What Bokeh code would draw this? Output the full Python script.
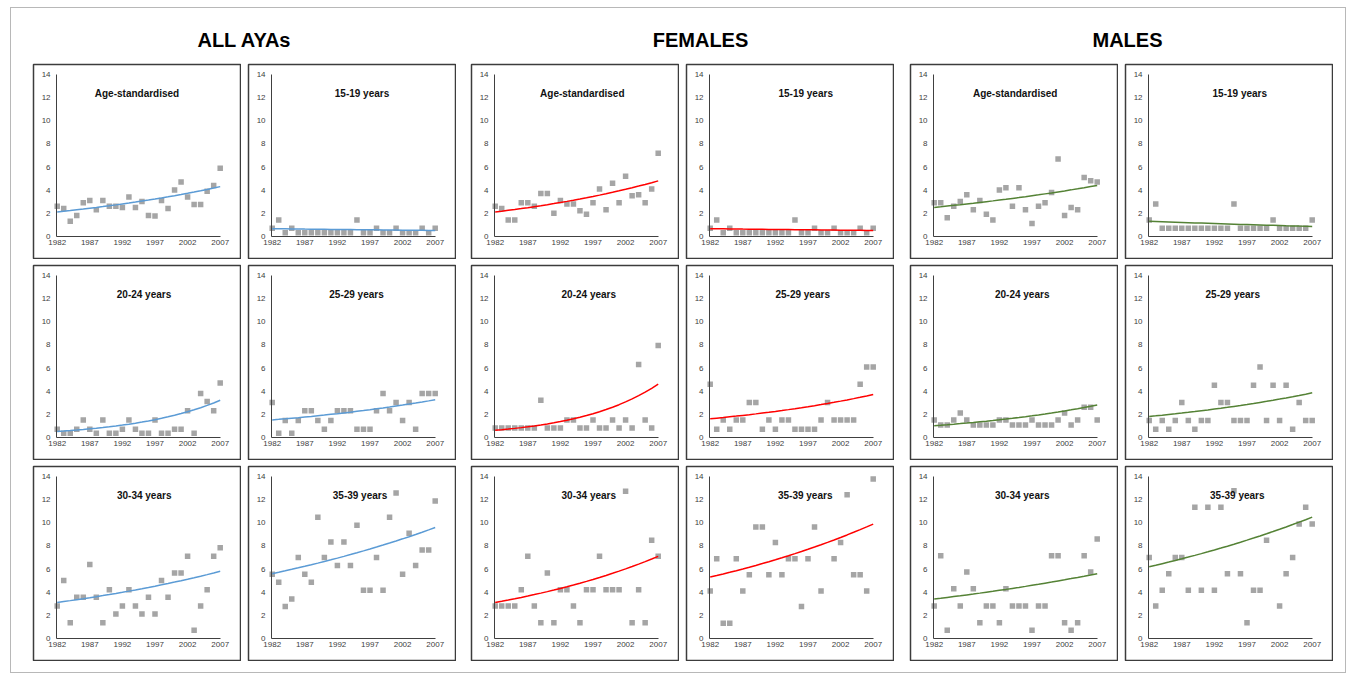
import numpy as np
from bokeh.plotting import figure
from bokeh.models import Range1d, FixedTicker, Label, Spacer, LinearAxis
from bokeh.layouts import row, column
from bokeh.embed import file_html
from bokeh.resources import INLINE

# ---------------- data ----------------
years = [1982, 1983, 1984, 1985, 1986, 1987, 1988, 1989, 1990, 1991, 1992, 1993, 1994,
         1995, 1996, 1997, 1998, 1999, 2000, 2001, 2002, 2003, 2004, 2005, 2006, 2007]
x_ticks = [1982, 1987, 1992, 1997, 2002, 2007]
y_ticks = [0, 2, 4, 6, 8, 10, 12, 14]
nan = float("nan")

group_titles = ["ALL AYAs", "FEMALES", "MALES"]
panel_titles = ["Age-standardised", "15-19 years", "20-24 years",
                "25-29 years", "30-34 years", "35-39 years"]

all_std = [2.6, 2.4, 1.3, 1.8, 2.9, 3.1, 2.3, 3.1, 2.6, 2.6, 2.5, 3.4, 2.5,
           3.0, 1.8, 1.75, 3.1, 2.4, 4.0, 4.7, 3.4, 2.75, 2.75, 3.9, 4.4, 5.9]
all_1519 = [0.7, 1.4, 0.3, 0.7, 0.3, 0.3, 0.3, 0.3, 0.3, 0.3, 0.3, 0.3, 0.3,
            1.4, 0.3, 0.3, 0.7, 0.3, 0.3, 0.7, 0.3, 0.3, 0.3, 0.7, 0.3, 0.7]
all_2024 = [0.7, 0.35, 0.35, 0.7, 1.5, 0.7, 0.35, 1.5, 0.35, 0.35, 0.7, 1.5, 0.7,
            0.35, 0.35, 1.5, 0.35, 0.35, 0.7, 0.7, 2.3, 0.35, 3.8, 3.1, 2.3, 4.7]
all_2529 = [3.0, 0.35, 1.45, 0.35, 1.45, 2.3, 2.3, 1.45, 0.7, 1.45, 2.3, 2.3, 2.3,
            0.7, 0.7, 0.7, 2.3, 3.8, 2.3, 3.0, 1.45, 3.0, 0.7, 3.8, 3.8, 3.8]
all_3034 = [2.8, 5.0, 1.35, 3.55, 3.55, 6.4, 3.55, 1.35, 4.2, 2.1, 2.8, 4.2, 2.8,
            2.1, 3.55, 2.1, 5.0, 3.55, 5.65, 5.65, 7.1, 0.7, 2.8, 4.2, 7.1, 7.85]
all_3539 = [5.55, 4.85, 2.75, 3.4, 7.0, 5.55, 4.85, 10.5, 7.0, 8.35, 6.3, 8.35, 6.3,
            9.8, 4.15, 4.15, 7.0, 4.15, 10.5, 12.6, 5.55, 9.1, 6.3, 7.65, 7.65, 11.9]

fem_std = [2.6, 2.4, 1.4, 1.4, 2.9, 2.9, 2.6, 3.7, 3.7, 2.0, 3.1, 2.8, 2.8,
           2.2, 1.9, 2.9, 4.1, 2.3, 4.6, 2.9, 5.2, 3.5, 3.6, 2.9, 4.1, 7.2]
fem_1519 = [0.7, 1.4, 0.3, 0.7, 0.3, 0.3, 0.3, 0.3, 0.3, 0.3, 0.3, 0.3, 0.3,
            1.4, 0.3, 0.3, 0.7, 0.3, 0.3, 0.7, 0.3, 0.3, 0.3, 0.7, 0.3, 0.7]
fem_2024 = [0.8, 0.8, 0.8, 0.8, 0.8, 0.8, 0.8, 3.2, 0.8, 0.8, 0.8, 1.5, 1.5,
            0.8, 0.8, 1.5, 0.8, 0.8, 1.5, 0.8, 1.5, 0.8, 6.3, 1.5, 0.8, 7.95]
fem_2529 = [4.6, 0.7, 1.5, 0.7, 1.5, 1.5, 3.0, 3.0, 0.7, 1.5, 0.7, 1.5, 1.5,
            0.7, 0.7, 0.7, 0.7, 1.5, 3.0, 1.5, 1.5, 1.5, 1.5, 4.6, 6.1, 6.1]
fem_3034 = [2.8, 2.8, 2.8, 2.8, 4.2, 7.1, 2.8, 1.35, 5.65, 1.35, 4.2, 4.2, 2.8,
            1.35, 4.2, 4.2, 7.1, 4.2, 4.2, 4.2, 12.75, 1.35, 4.2, 1.35, 8.5, 7.1]
fem_3539 = [4.1, 6.9, 1.3, 1.3, 6.9, 4.1, 5.5, 9.65, 9.65, 5.5, 8.3, 5.5, 6.9,
            6.9, 2.75, 6.9, 9.65, 4.1, nan, 6.9, 8.3, 12.45, 5.5, 5.5, 4.1, 13.8]

male_std = [2.9, 2.9, 1.6, 2.6, 3.0, 3.6, 2.3, 3.1, 1.9, 1.4, 4.0, 4.2, 2.6,
            4.2, 2.3, 1.1, 2.6, 2.9, 3.8, 6.7, 1.8, 2.5, 2.3, 5.1, 4.8, 4.7]
male_1519 = [1.4, 2.8, 0.7, 0.7, 0.7, 0.7, 0.7, 0.7, 0.7, 0.7, 0.7, 0.7, 0.7,
             2.8, 0.7, 0.7, 0.7, 0.7, 0.7, 1.4, 0.7, 0.7, 0.7, 0.7, 0.7, 1.4]
male_2024 = [1.5, 1.05, 1.05, 1.5, 2.1, 1.5, 1.05, 1.05, 1.05, 1.05, 1.5, 1.5, 1.05,
             1.05, 1.05, 1.5, 1.05, 1.05, 1.05, 1.5, 2.1, 1.05, 1.5, 2.6, 2.6, 1.5]
male_2529 = [1.45, 0.7, 1.45, 0.7, 1.45, 3.0, 1.45, 0.7, 1.45, 1.45, 4.5, 3.0, 3.0,
             1.45, 1.45, 1.45, 4.5, 6.1, 1.45, 4.5, 1.45, 4.5, 0.7, 3.0, 1.45, 1.45]
male_3034 = [2.8, 7.15, 0.7, 4.3, 2.8, 5.75, 4.3, 1.35, 2.8, 2.8, 1.35, 4.3, 2.8,
             2.8, 2.8, 0.7, 2.8, 2.8, 7.15, 7.15, 1.35, 0.7, 1.35, 7.15, 5.75, 8.6]
male_3539 = [7.0, 2.8, 4.15, 5.6, 7.0, 7.0, 4.15, 11.35, 4.15, 11.35, 4.15, 11.35, 5.6,
             12.8, 5.6, 1.35, 4.15, 4.15, 8.5, nan, 2.8, 5.6, 7.0, 9.9, 11.35, 9.9]

# exponential trend lines: value in 1982 and in 2007
all_trend_1982 = [2.1, 0.65, 0.5, 1.5, 3.1, 5.6]
all_trend_2007 = [4.3, 0.5, 3.2, 3.25, 5.8, 9.6]
fem_trend_1982 = [2.1, 0.65, 0.6, 1.6, 3.1, 5.3]
fem_trend_2007 = [4.8, 0.5, 4.6, 3.7, 7.1, 9.9]
male_trend_1982 = [2.5, 1.3, 1.0, 1.8, 3.4, 6.2]
male_trend_2007 = [4.4, 0.85, 2.8, 3.85, 5.6, 10.5]

groups = [
    ("#5B9BD5", [all_std, all_1519, all_2024, all_2529, all_3034, all_3539],
     all_trend_1982, all_trend_2007),
    ("#FF0000", [fem_std, fem_1519, fem_2024, fem_2529, fem_3034, fem_3539],
     fem_trend_1982, fem_trend_2007),
    ("#548235", [male_std, male_1519, male_2024, male_2529, male_3034, male_3539],
     male_trend_1982, male_trend_2007),
]

# ---------------- geometry / style ----------------
FONT = "Liberation Sans"
PW, PH = 209, 196          # figure size (frame 207 x 194)
PXX = 6.52                 # px per year
PXY = 11.529               # px per unit
X0 = 1982 - 23.7 / PXX
X1 = X0 + 207 / PXX
Y1 = 14 + 10.3 / PXY
Y0 = Y1 - 194 / PXY
# title centre offsets from panel left edge (px), per row, per column
title_dx = [[103.5, 113.5, 110.8, 119.2, 104.7, 114.3],
            [110.5, 108.0, 117.3, 116.2, 111.7, 107.3],
            [110.7, 111.5, 117.3, 118.7, 111.7, 111.8]]


def make_panel(title, vals, color, t0, t1, dx):
    p = figure(width=PW, height=PH, x_range=Range1d(X0, X1), y_range=Range1d(Y0, Y1),
               output_backend="svg", toolbar_location=None,
               x_axis_location=None, y_axis_location=None, min_border=1)
    p.grid.visible = False
    p.outline_line_color = "#3c3c3c"
    p.outline_line_width = 1.5
    p.background_fill_color = "white"
    p.border_fill_color = "white"

    xa = LinearAxis(fixed_location=0, bounds=(1981.9, 2007),
                    ticker=FixedTicker(ticks=x_ticks))
    ya = LinearAxis(fixed_location=1981.9, bounds=(0, 14),
                    ticker=FixedTicker(ticks=y_ticks))
    for ax, standoff in ((xa, 4), (ya, 6)):
        ax.axis_line_color = "#404040"
        ax.axis_line_width = 1
        ax.major_tick_line_color = None
        ax.minor_tick_line_color = None
        ax.major_tick_in = 0
        ax.major_tick_out = 0
        ax.major_label_standoff = standoff
        ax.major_label_text_font = FONT
        ax.major_label_text_font_size = "8px"
        ax.major_label_text_color = "#404040"
    p.add_layout(xa, "below")
    p.add_layout(ya, "left")

    yrs = np.array(years, dtype=float)
    v = np.array(vals, dtype=float)
    p.scatter(yrs, v, marker="square", size=5.5, fill_color="#a5a5a5", line_color=None)

    # exponential trendline through the read 1982 / 2007 values
    frac = (yrs - 1982) / 25.0
    p.line(yrs, t0 * (t1 / t0) ** frac, line_color=color, line_width=1.5)

    p.add_layout(Label(x=X0 + dx / PXX, y=12.4, text=title, text_align="center",
                       text_baseline="middle", text_font=FONT, text_font_style="bold",
                       text_font_size="10px", text_color="#111111"))
    return p


# header
HW, HH = 1324, 55
header = figure(width=HW, height=HH, x_range=Range1d(11, 11 + HW), y_range=Range1d(0, HH),
                output_backend="svg", toolbar_location=None,
                x_axis_location=None, y_axis_location=None, min_border=0)
header.grid.visible = False
header.outline_line_color = None
for gt, cx in zip(group_titles, [244, 700, 1127]):
    header.add_layout(Label(x=cx, y=HH - 31, text=gt, text_align="center",
                            text_baseline="middle", text_font=FONT, text_font_style="bold",
                            text_font_size="20px", text_color="#000000"))

gaps = [6, 14, 6, 15, 6]
rows = []
for r in range(3):
    items = [Spacer(width=21, height=PH)]
    c = 0
    for color, series, t0s, t1s in groups:
        for k in range(2):
            idx = r * 2 + k
            items.append(make_panel(panel_titles[idx], series[idx], color,
                                    t0s[idx], t1s[idx], title_dx[r][c]))
            if c < 5:
                items.append(Spacer(width=gaps[c], height=PH))
            c += 1
    rows.append(row(*items))

inner = column(header, rows[0], Spacer(height=5), rows[1], Spacer(height=5), rows[2],
               width=1336, height=666,
               styles={"border": "1px solid #b8b8b8"})
root = column(Spacer(height=7), row(Spacer(width=10), inner))

open("out.html", "w").write(file_html(root, INLINE))
